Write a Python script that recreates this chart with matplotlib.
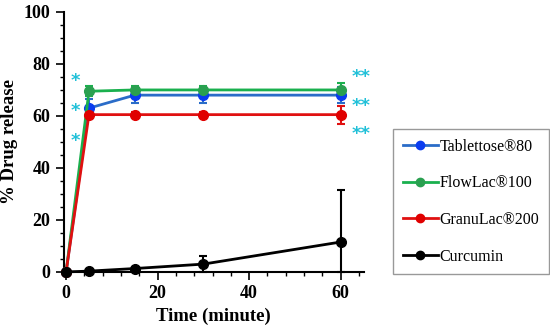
import numpy as np
import matplotlib
matplotlib.use("Agg")
from matplotlib import pyplot as plt
from matplotlib.lines import Line2D
from matplotlib.ticker import MultipleLocator

# data
time = [0, 5, 15, 30, 60]
tablettose = [0, 63, 68, 68, 68]
tablettose_err = [0, 3.5, 3, 3, 3]
flowlac = [0, 69.5, 70, 70, 70]
flowlac_err = [0, 2, 1.5, 1.5, 2.5]
granulac = [0, 60.5, 60.5, 60.5, 60.5]
granulac_err = [0, 1, 1, 1, 3.5]
curcumin = [0, 0.3, 1.3, 3, 11.5]
curcumin_err = [0, 0.3, 0.5, 3, 20]

labels = ["Tablettose®80", "FlowLac®100", "GranuLac®200", "Curcumin"]

plt.rcParams['font.family'] = ['Liberation Serif', 'DejaVu Serif']

fig = plt.figure(figsize=(5.5, 3.32), dpi=100)
ax = fig.add_axes([0.116, 0.181, 0.545, 0.783])

series = [
    (tablettose, tablettose_err, "#2a6cc8", "#0a3cf0"),
    (flowlac, flowlac_err, "#1ab04e", "#2aa050"),
    (granulac, granulac_err, "#e01010", "#e00000"),
    (curcumin, curcumin_err, "black", "black"),
]
handles = []
for (vals, err, lc, mc), lab in zip(series, labels):
    vals = np.array(vals)
    err = np.array(err)
    # error bars stop at the x axis
    yerr = [np.minimum(err, vals), err]
    ax.errorbar(time, vals, yerr=yerr, color=lc, marker="o", markersize=7,
                markerfacecolor=mc, markeredgecolor=mc, linewidth=2,
                capsize=3, elinewidth=1.5, capthick=1.5,
                clip_on=False, zorder=3)
    handles.append(Line2D([], [], color=lc, linewidth=2, marker="o",
                          markersize=6, markerfacecolor=mc,
                          markeredgecolor=mc, label=lab))

# significance marks
star_c = "#20c0d8"
for y in [73.5, 62, 50.5]:
    ax.text(2.0, y, "*", color=star_c, fontsize=13, ha="center", va="center",
            family="DejaVu Sans", fontweight="bold")
for y in [75, 64, 53]:
    ax.text(64.5, y, "**", color=star_c, fontsize=13, ha="center", va="center",
            family="DejaVu Sans", fontweight="bold")

ax.set_xlim(-0.5, 65)
ax.set_ylim(0, 100)
ax.xaxis.set_major_locator(MultipleLocator(20))
ax.xaxis.set_minor_locator(MultipleLocator(4))
ax.yaxis.set_major_locator(MultipleLocator(20))
ax.yaxis.set_minor_locator(MultipleLocator(5))
ax.spines['top'].set_visible(False)
ax.spines['right'].set_visible(False)
ax.spines['left'].set_linewidth(1.5)
ax.spines['bottom'].set_linewidth(1.5)
ax.tick_params(which="major", length=6, width=1.2, labelsize=13)
ax.tick_params(which="minor", length=3, width=1)
for t in ax.get_xticklabels() + ax.get_yticklabels():
    t.set_fontweight("bold")

ax.set_xlabel("Time (minute)", fontsize=13.5, fontweight="bold")
ax.set_ylabel("% Drug release", fontsize=13.5, fontweight="bold")

leg = fig.legend(handles=handles, loc="upper left",
                 bbox_to_anchor=(0.715, 0.611), borderaxespad=0,
                 fontsize=11.5, frameon=True, fancybox=False,
                 edgecolor="#808080", labelspacing=1.29, handlelength=2.2,
                 handletextpad=0.1, borderpad=0.6)
leg.get_frame().set_linewidth(1.0)

fig.savefig("out.png", dpi=100)
